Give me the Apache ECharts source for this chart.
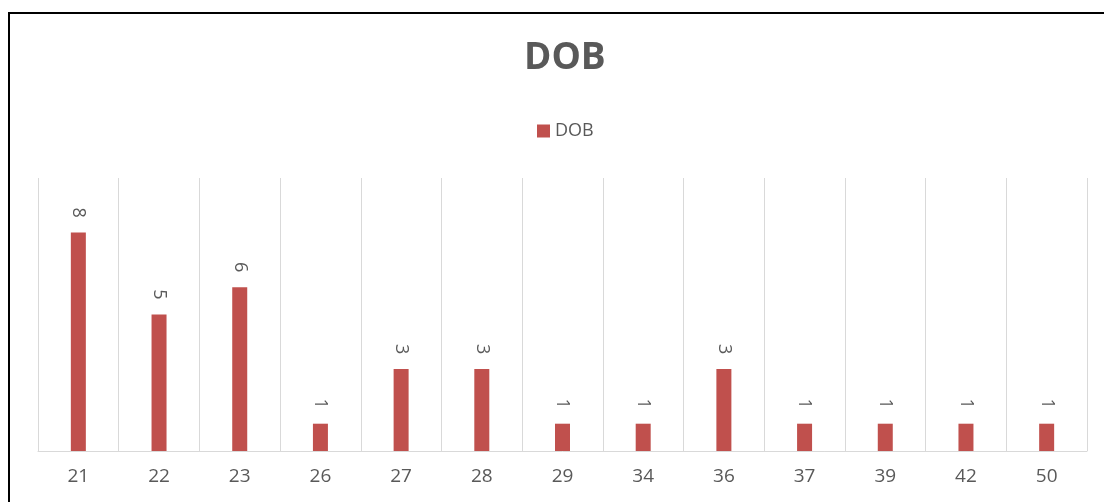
<!DOCTYPE html>
<html>
<head>
<meta charset="utf-8">
<script src="https://cdn.jsdelivr.net/npm/echarts@6/dist/echarts.min.js"></script>
<style>
html, body { margin: 0; padding: 0; background: #fff; }
#chart { width: 1104px; height: 502px; }
</style>
</head>
<body>
<div id="chart"></div>
<script>
// DOB counts per age
const ages = ['21', '22', '23', '26', '27', '28', '29', '34', '36', '37', '39', '42', '50'];
const counts = [8, 5, 6, 1, 3, 3, 1, 1, 3, 1, 1, 1, 1];

let chart = echarts.init(document.getElementById('chart'));

let option = {
  animation: false,
  backgroundColor: '#fff',
  title: {
    text: 'DOB',
    left: 519,
    top: 35,
    textStyle: { fontFamily: 'Open Sans', fontWeight: 'bold', fontSize: 37, color: '#595959' }
  },
  legend: {
    data: ['DOB'],
    left: 532,
    top: 117,
    icon: 'rect',
    itemWidth: 13,
    itemHeight: 13,
    itemGap: 7,
    textStyle: { fontFamily: 'Open Sans', fontSize: 18, color: '#595959' }
  },
  grid: { left: 38, right: 17, top: 178, bottom: 51 },
  xAxis: {
    type: 'category',
    data: ages,
    axisLine: { lineStyle: { color: '#d9d9d9', width: 1 } },
    axisTick: { show: false },
    splitLine: { show: true, lineStyle: { color: '#d9d9d9', width: 1 } },
    axisLabel: { fontFamily: 'Open Sans', fontSize: 19, color: '#595959', margin: 16 }
  },
  yAxis: {
    type: 'value',
    min: 0,
    max: 10,
    show: false,
    splitLine: { show: false }
  },
  series: [
    {
      name: 'DOB',
      type: 'bar',
      data: counts,
      barWidth: 15,
      itemStyle: { color: '#c0504d' },
      label: {
        show: true,
        position: 'top',
        rotate: -90,
        distance: 20,
        align: 'center',
        verticalAlign: 'middle',
        fontFamily: 'Open Sans',
        fontSize: 18,
        color: '#595959'
      }
    }
  ],
  graphic: [
    {
      type: 'rect',
      shape: { x: 9, y: 13, width: 1200, height: 600 },
      style: { fill: 'none', stroke: '#000', lineWidth: 2 },
      silent: true
    }
  ]
};

chart.setOption(option);
</script>
</body>
</html>
